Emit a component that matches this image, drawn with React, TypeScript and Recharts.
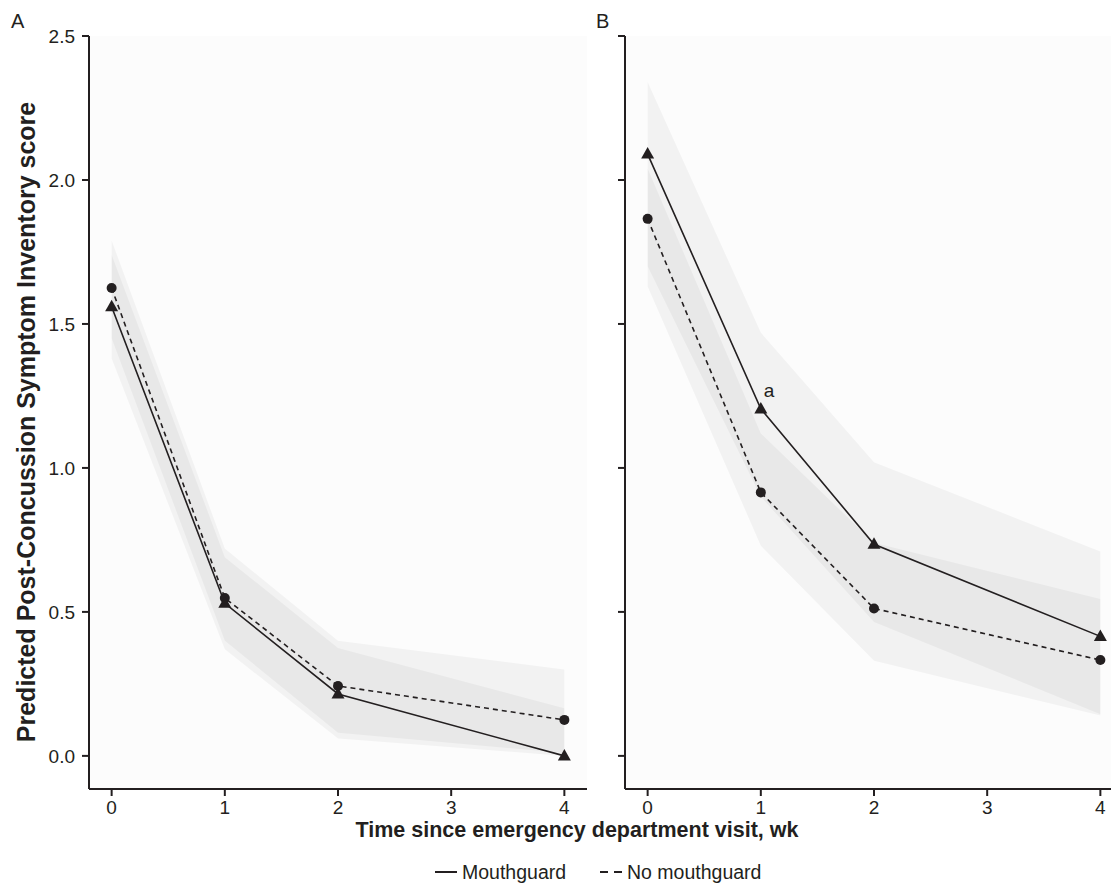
import { ComposedChart, Area, Line, XAxis, YAxis, CartesianGrid } from 'recharts'

// weeks since ED visit
const weeks = [0, 1, 2, 4]
const xTicks = [0, 1, 2, 3, 4]
const yTicks = [0, 0.5, 1, 1.5, 2, 2.5]

// Panel A
const aMouthguard = [1.56, 0.53, 0.215, 0]
const aMouthguardLow = [1.38, 0.37, 0.06, 0]
const aMouthguardHigh = [1.74, 0.69, 0.375, 0.165]
const aNoMouthguard = [1.625, 0.548, 0.243, 0.125]
const aNoMouthguardLow = [1.45, 0.4, 0.08, 0.01]
const aNoMouthguardHigh = [1.79, 0.72, 0.4, 0.3]

// Panel B
const bMouthguard = [2.09, 1.205, 0.735, 0.415]
const bMouthguardLow = [1.7, 0.9, 0.465, 0.145]
const bMouthguardHigh = [2.34, 1.47, 1.02, 0.71]
const bNoMouthguard = [1.865, 0.915, 0.512, 0.333]
const bNoMouthguardLow = [1.63, 0.73, 0.33, 0.14]
const bNoMouthguardHigh = [2.04, 1.12, 0.74, 0.545]

const INK = '#231f20'
const FONT = '"Liberation Sans", Arial, Helvetica, sans-serif'
const TICK_SIZE = 19

function buildRows(mg: number[], mgLo: number[], mgHi: number[], nmg: number[], nmgLo: number[], nmgHi: number[]) {
  return weeks.map((w, i) => ({
    week: w,
    mg: mg[i],
    nmg: nmg[i],
    mgBand: [mgLo[i], mgHi[i]],
    nmgBand: [nmgLo[i], nmgHi[i]],
  }))
}

const panelA = buildRows(aMouthguard, aMouthguardLow, aMouthguardHigh, aNoMouthguard, aNoMouthguardLow, aNoMouthguardHigh)
const panelB = buildRows(bMouthguard, bMouthguardLow, bMouthguardHigh, bNoMouthguard, bNoMouthguardLow, bNoMouthguardHigh)

const TriangleDot = (props: any) => {
  const { cx, cy, index } = props
  if (cx == null || cy == null) return null
  return <path key={`t-${index}`} d={`M${cx},${cy - 7} L${cx + 6.5},${cy + 4.5} L${cx - 6.5},${cy + 4.5} Z`} fill={INK} />
}

const CircleDot = (props: any) => {
  const { cx, cy, index } = props
  if (cx == null || cy == null) return null
  return <circle key={`c-${index}`} cx={cx} cy={cy} r={5} fill={INK} />
}

const SigLabel = (props: any) => {
  const { x, y, index } = props
  if (index !== 1) return null
  return (
    <text x={x + 3} y={y - 12} fontSize={19} fill={INK} fontFamily={FONT}>
      a
    </text>
  )
}

function Panel({ data, showYLabels, markFirst }: { data: any[]; showYLabels: boolean; markFirst?: boolean }) {
  return (
    <ComposedChart
      width={showYLabels ? 600 : 570}
      height={883}
      data={data}
      margin={showYLabels ? { top: 36, right: 13, bottom: 64, left: 29 } : { top: 36, right: 7, bottom: 64, left: 5 }}
      style={{ fontFamily: FONT }}
    >
      <CartesianGrid horizontal={false} vertical={false} fill="#fcfcfc" />
      <XAxis
        dataKey="week"
        type="number"
        domain={[-0.2, 4.2]}
        ticks={xTicks}
        allowDataOverflow
        height={30}
        tickSize={7}
        tickMargin={5}
        fontSize={TICK_SIZE}
        tick={{ fill: INK, fontSize: TICK_SIZE, fontFamily: FONT }}
        axisLine={{ stroke: INK, strokeWidth: 2 }}
        tickLine={{ stroke: INK, strokeWidth: 2 }}
      />
      <YAxis
        type="number"
        domain={[-0.115, 2.5]}
        ticks={yTicks}
        allowDataOverflow
        width={60}
        tickSize={7}
        tickMargin={7}
        fontSize={TICK_SIZE}
        tickFormatter={(v: number) => (showYLabels ? v.toFixed(1) : '')}
        tick={{ fill: INK, fontSize: TICK_SIZE, fontFamily: FONT }}
        axisLine={{ stroke: INK, strokeWidth: 2 }}
        tickLine={{ stroke: INK, strokeWidth: 2 }}
      />
      <Area dataKey="mgBand" type="linear" stroke="none" fill="#000000" fillOpacity={0.04} isAnimationActive={false} />
      <Area dataKey="nmgBand" type="linear" stroke="none" fill="#000000" fillOpacity={0.04} isAnimationActive={false} />
      <Line
        dataKey="nmg"
        type="linear"
        stroke={INK}
        strokeWidth={1.6}
        strokeDasharray="5 4"
        dot={CircleDot}
        activeDot={false}
        isAnimationActive={false}
      />
      <Line
        dataKey="mg"
        type="linear"
        stroke={INK}
        strokeWidth={1.6}
        dot={TriangleDot}
        activeDot={false}
        label={markFirst ? SigLabel : undefined}
        isAnimationActive={false}
      />
    </ComposedChart>
  )
}

export default function App() {
  return (
    <div
      style={{
        position: 'absolute',
        left: 0,
        top: 0,
        width: 1111,
        height: 883,
        overflow: 'hidden',
        background: '#fff',
        fontFamily: FONT,
      }}
    >
      <div style={{ position: 'absolute', left: 0, top: 0 }}>
        <Panel data={panelA} showYLabels />
      </div>
      <div style={{ position: 'absolute', left: 560, top: 0 }}>
        <Panel data={panelB} showYLabels={false} markFirst />
      </div>
      <svg width={1111} height={883} style={{ position: 'absolute', left: 0, top: 0, pointerEvents: 'none' }}>
        <text x={11} y={28} fontSize={20} fill={INK} fontFamily={FONT}>
          A
        </text>
        <text x={596} y={28} fontSize={20} fill={INK} fontFamily={FONT}>
          B
        </text>
        <text
          x={35}
          y={422}
          transform="rotate(-90 35 422)"
          textAnchor="middle"
          fontSize={25}
          fontWeight="bold"
          fill={INK}
          fontFamily={FONT}
        >
          Predicted Post-Concussion Symptom Inventory score
        </text>
        <text x={577} y={837} textAnchor="middle" fontSize={21.5} fontWeight="bold" fill={INK} fontFamily={FONT}>
          Time since emergency department visit, wk
        </text>
        <line x1={435} y1={872} x2={457} y2={872} stroke={INK} strokeWidth={2} />
        <text x={462} y={879} fontSize={19.5} fill={INK} fontFamily={FONT}>
          Mouthguard
        </text>
        <line x1={600} y1={872} x2={622} y2={872} stroke={INK} strokeWidth={2} strokeDasharray="8 6" />
        <text x={627} y={879} fontSize={19.5} fill={INK} fontFamily={FONT}>
          No mouthguard
        </text>
      </svg>
    </div>
  )
}
